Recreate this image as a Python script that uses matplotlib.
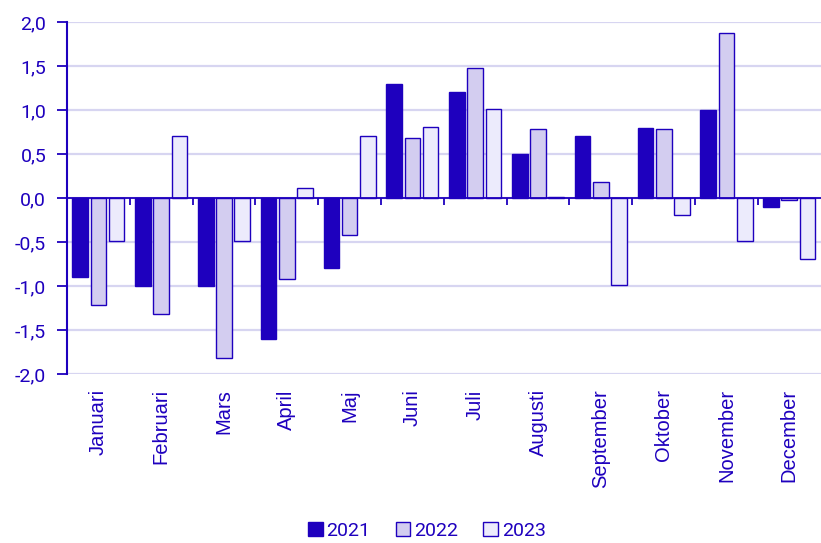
import numpy as np
import matplotlib
matplotlib.use("Agg")
import matplotlib.pyplot as plt

plt.rcParams['font.family'] = ['Roboto', 'DejaVu Sans']

months = ["Januari", "Februari", "Mars", "April", "Maj", "Juni", "Juli",
          "Augusti", "September", "Oktober", "November", "December"]
years = ["2021", "2022", "2023"]
v2021 = [-0.9, -1.0, -1.0, -1.6, -0.8, 1.3, 1.2, 0.5, 0.7, 0.8, 1.0, -0.1]
v2022 = [-1.22, -1.32, -1.82, -0.92, -0.42, 0.68, 1.48, 0.78, 0.18, 0.78, 1.88, -0.02]
v2023 = [-0.49, 0.71, -0.49, 0.11, 0.71, 0.81, 1.01, 0.01, -0.99, -0.19, -0.49, -0.69]
yticks = [-2.0, -1.5, -1.0, -0.5, 0.0, 0.5, 1.0, 1.5, 2.0]

dark = "#1e00be"
fills = ["#1e00be", "#d3cdf0", "#ecebfc"]
grid = "#d7d5f1"

fig = plt.figure(figsize=(8.21, 5.43), dpi=100)
ax = fig.add_axes([0.0816, 0.3112, 0.918, 0.6483])

x = np.arange(len(months))
w = 0.25
step = 0.29
for i, (vals, lab) in enumerate(zip([v2021, v2022, v2023], years)):
    ax.bar(x + (i - 1) * step, vals, width=w, color=fills[i], edgecolor=dark,
           linewidth=1.0, label=lab, zorder=3)

ax.set_xlim(-0.5, len(months) - 0.5)
ax.set_ylim(-2, 2)
ax.set_yticks(yticks)
ax.set_yticklabels([f"{t:.1f}".replace(".", ",") for t in yticks])
for t in yticks:
    ax.axhline(t, color=grid, lw=1.6, zorder=1)
ax.axhline(0, color=dark, lw=1.3, zorder=4)
ax.vlines(x[:-1] + 0.5, -0.08, 0, color=dark, lw=1.3, zorder=4)

ax.set_xticks(x)
ax.set_xticklabels(months, rotation=90, family=['Liberation Sans', 'DejaVu Sans'])
ax.tick_params(axis='x', length=0, pad=11, labelsize=14.5, labelcolor=dark)
ax.tick_params(axis='y', length=7, width=1.3, color=dark, labelsize=14,
               labelcolor=dark, pad=8)
for s in ["top", "right", "bottom"]:
    ax.spines[s].set_visible(False)
ax.spines["left"].set_color(dark)
ax.spines["left"].set_linewidth(1.5)

fig.legend(loc="center", bbox_to_anchor=(0.52, 0.022), ncol=3, frameon=False,
           handlelength=0.75, handleheight=0.75, handletextpad=0.2,
           columnspacing=1.3, fontsize=14, labelcolor=dark)

fig.savefig("out.png", dpi=100)
